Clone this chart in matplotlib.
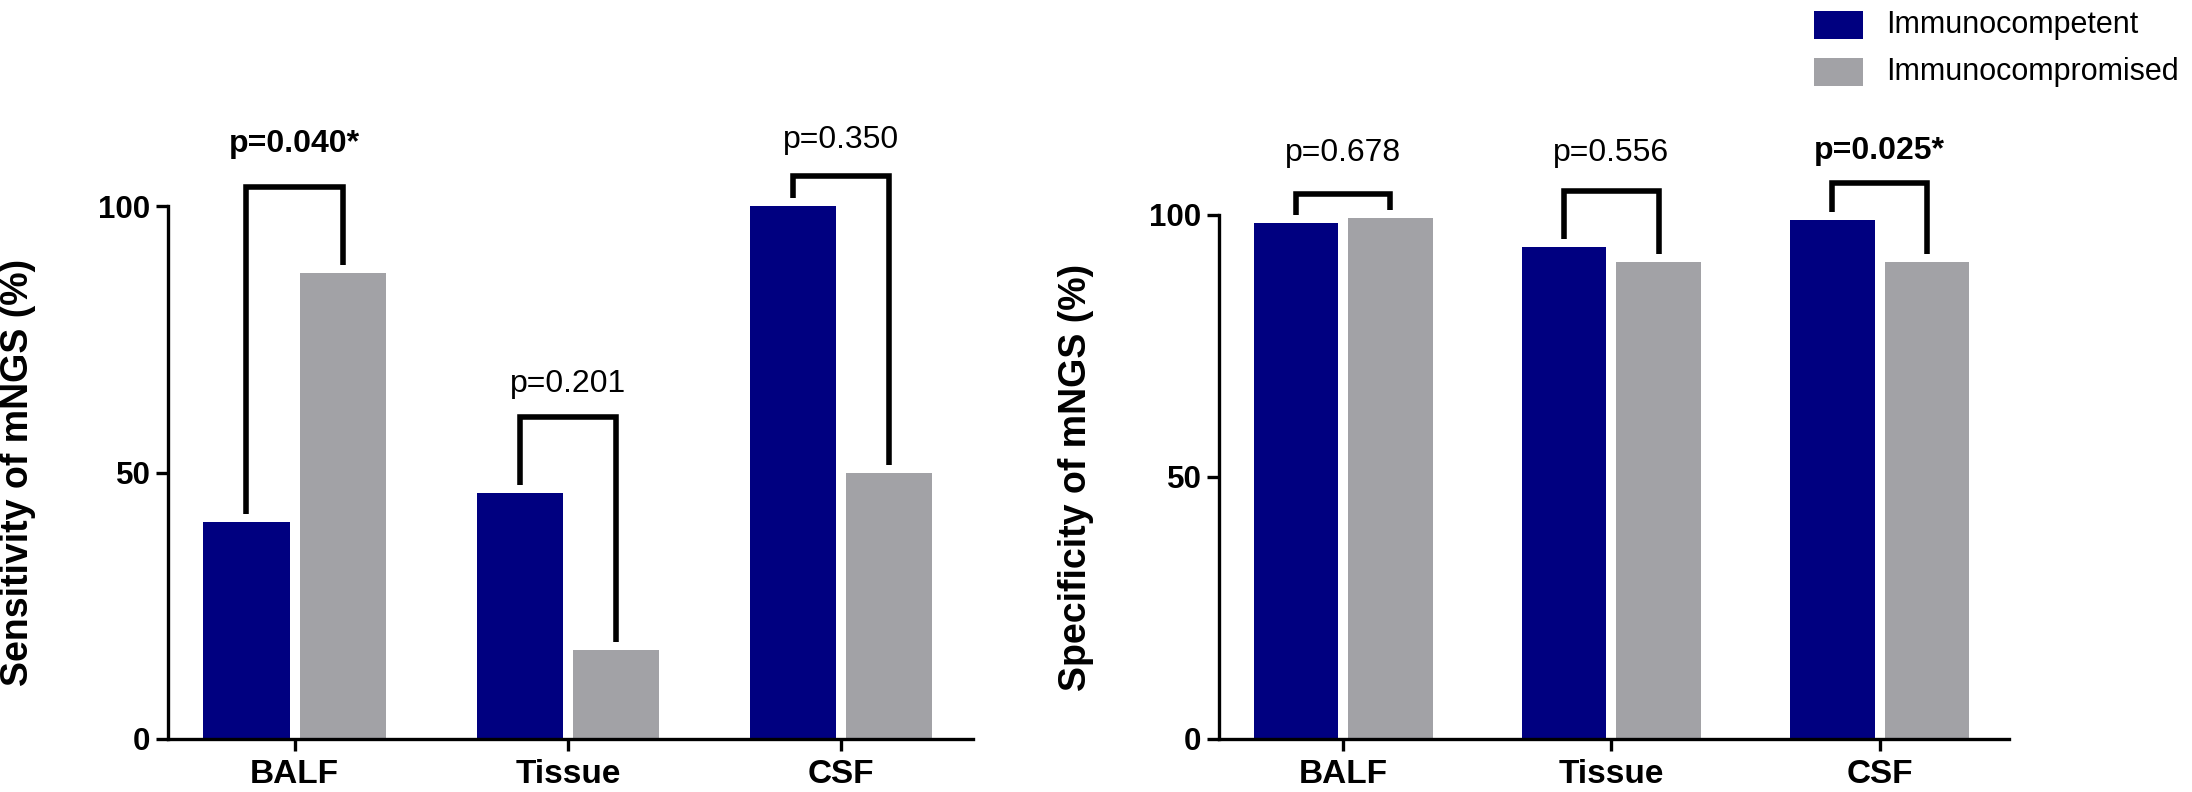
import numpy as np
import matplotlib
matplotlib.use("Agg")
import matplotlib.pyplot as plt
from matplotlib.patches import Rectangle

plt.rcParams['font.family'] = ['Liberation Sans', 'DejaVu Sans']

# data
categories = ['BALF', 'Tissue', 'CSF']
groups = ['Immunocompetent', 'Immunocompromised']
colors = ['#000080', '#a2a2a6']

sens_competent = [40.7, 46.2, 100.0]
sens_compromised = [87.5, 16.7, 50.0]
spec_competent = [98.5, 93.9, 99.0]
spec_compromised = [99.4, 91.0, 91.0]

sens_p = ['p=0.040*', 'p=0.201', 'p=0.350']
spec_p = ['p=0.678', 'p=0.556', 'p=0.025*']
sens_sig = [True, False, False]
spec_sig = [False, False, True]

# bracket tops and p-label heights (in %)
sens_bracket = [103.6, 60.5, 105.7]
spec_bracket = [104.0, 104.6, 106.1]
sens_label_y = [111.7, 66.6, 112.3]
spec_label_y = [111.9, 111.9, 112.3]

fig = plt.figure(figsize=(21.92, 7.92), dpi=100)
W, H = 2192, 792

ax1 = fig.add_axes([168 / W, 53 / H, (973 - 168) / W, (739 - 206) / H])
ax2 = fig.add_axes([1219 / W, 53 / H, (2009 - 1219) / W, (739 - 215) / H])

x = np.arange(len(categories))
off = 0.176
bw = 0.315
gap = 1.5


def panel(ax, a, b, ptxt, sig, tops, ly, ylabel):
    ax.bar(x - off, a, bw, color=colors[0], linewidth=0)
    ax.bar(x + off, b, bw, color=colors[1], linewidth=0)
    for i in range(len(categories)):
        xs = [x[i] - off, x[i] - off, x[i] + off, x[i] + off]
        ys = [a[i] + gap, tops[i], tops[i], b[i] + gap]
        ax.plot(xs, ys, color='black', lw=4.0, clip_on=False,
                solid_joinstyle='miter', solid_capstyle='butt')
        ax.text(x[i], ly[i], ptxt[i], ha='center', va='center', fontsize=23,
                fontweight='bold' if sig[i] else 'normal', clip_on=False)
    ax.set_xlim(-0.463, 2.482)
    ax.set_ylim(0, 100)
    ax.set_yticks([0, 50, 100])
    ax.set_xticks(x)
    ax.set_xticklabels(categories, fontsize=24, fontweight='bold')
    for lab in ax.get_yticklabels():
        lab.set_fontsize(22.5)
        lab.set_fontweight('bold')
    ax.tick_params(axis='both', length=8.6, width=2.4, color='black')
    ax.tick_params(axis='y', pad=4)
    ax.tick_params(axis='x', pad=6)
    for s in ['top', 'right']:
        ax.spines[s].set_visible(False)
    for s in ['left', 'bottom']:
        ax.spines[s].set_linewidth(2.4)
    ax.set_ylabel(ylabel, fontsize=27, fontweight='bold')


panel(ax1, sens_competent, sens_compromised, sens_p, sens_sig,
      sens_bracket, sens_label_y, 'Sensitivity of mNGS (%)')
panel(ax2, spec_competent, spec_compromised, spec_p, spec_sig,
      spec_bracket, spec_label_y, 'Specificity of mNGS (%)')

# y label positions: right edge of the rotated text, pixels -> axes fraction
ax1.yaxis.set_label_coords((36 - 168) / (973 - 168), 0.5)
ax2.yaxis.set_label_coords((1094 - 1219) / (2009 - 1219), 0.5)

# legend, top right
for k, (name, c) in enumerate(zip(groups, colors)):
    yc = 25 + 47 * k
    fig.add_artist(Rectangle((1814 / W, 1 - (yc + 14) / H), 49 / W, 28 / H,
                             transform=fig.transFigure, color=c, lw=0))
    fig.text(1886 / W, 1 - yc / H, name, fontsize=22, ha='left', va='center')

fig.savefig('out.png', dpi=100)
